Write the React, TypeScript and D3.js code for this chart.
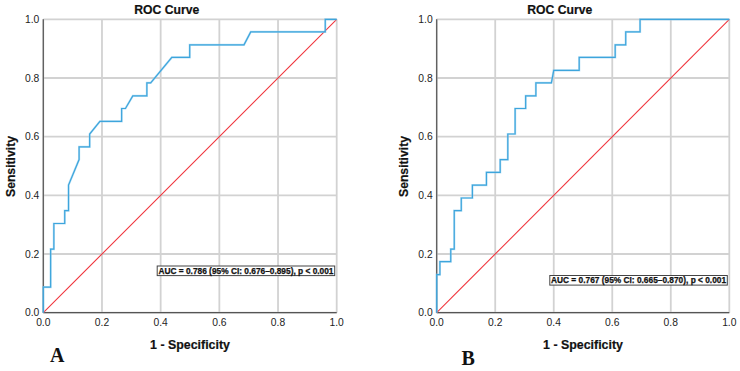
import React from "react";
import * as d3 from "d3";

// ROC curve A: (1 - specificity, sensitivity)
const fprA = [0, 0, 0.025, 0.025, 0.036, 0.036, 0.073, 0.073, 0.086, 0.086, 0.122, 0.122, 0.158, 0.158, 0.193, 0.267, 0.267, 0.28, 0.305, 0.353, 0.353, 0.366, 0.438, 0.499, 0.499, 0.684, 0.707, 0.961, 0.961, 1];
const tprA = [0, 0.087, 0.087, 0.217, 0.217, 0.304, 0.304, 0.348, 0.348, 0.435, 0.522, 0.565, 0.565, 0.609, 0.652, 0.652, 0.696, 0.696, 0.739, 0.739, 0.783, 0.783, 0.87, 0.87, 0.913, 0.913, 0.957, 0.957, 1, 1];

// ROC curve B
const fprB = [0, 0, 0.011, 0.011, 0.048, 0.048, 0.06, 0.06, 0.084, 0.084, 0.122, 0.122, 0.17, 0.17, 0.217, 0.217, 0.243, 0.243, 0.268, 0.268, 0.304, 0.304, 0.339, 0.339, 0.392, 0.4, 0.487, 0.487, 0.61, 0.61, 0.646, 0.646, 0.695, 0.695, 1];
const tprB = [0, 0.13, 0.13, 0.174, 0.174, 0.217, 0.217, 0.348, 0.348, 0.391, 0.391, 0.435, 0.435, 0.478, 0.478, 0.522, 0.522, 0.609, 0.609, 0.696, 0.696, 0.739, 0.739, 0.783, 0.783, 0.826, 0.826, 0.87, 0.87, 0.913, 0.913, 0.957, 0.957, 1, 1];

const ticks = [0, 0.2, 0.4, 0.6, 0.8, 1.0];
const tickLabels = ["0.0", "0.2", "0.4", "0.6", "0.8", "1.0"];
const aucLabels = [
  "AUC = 0.786 (95% CI: 0.676\u20130.895), p < 0.001",
  "AUC = 0.767 (95% CI: 0.665\u20130.870), p < 0.001",
];
const panelLetters = ["A", "B"];

const SANS = "'Liberation Sans', Arial, sans-serif";

type Panel = {
  fpr: number[];
  tpr: number[];
  left: number;
  right: number;
  auc: string;
  letter: string;
  boxTop: number;
  letterX: number;
  letterY: number;
};

const panels: Panel[] = [
  { fpr: fprA, tpr: tprA, left: 43.3, right: 336.7, auc: aucLabels[0], letter: panelLetters[0], boxTop: 266, letterX: 50, letterY: 362 },
  { fpr: fprB, tpr: tprB, left: 436.7, right: 729.3, auc: aucLabels[1], letter: panelLetters[1], boxTop: 275.5, letterX: 461.5, letterY: 365 },
];

const TOP = 19.3;
const BOTTOM = 312.7;

function RocPanel({ p }: { p: Panel }) {
  const x = d3.scaleLinear().domain([0, 1]).range([p.left, p.right]);
  const y = d3.scaleLinear().domain([0, 1]).range([BOTTOM, TOP]);
  const pts: [number, number][] = p.fpr.map((f, i) => [f, p.tpr[i]]);
  const line = d3
    .line<[number, number]>()
    .x((d) => x(d[0]))
    .y((d) => y(d[1]));
  const diag = line([
    [0, 0],
    [1, 1],
  ]);
  const cx = (p.left + p.right) / 2;
  const boxW = 177.5;
  const boxH = 9.6;
  const boxX = p.right - 2 - boxW;
  return (
    <g>
      {/* grid */}
      {ticks.map((t) => (
        <line key={"gx" + t} x1={x(t)} x2={x(t)} y1={TOP} y2={BOTTOM} stroke="#d2d2d2" strokeWidth={1.8} />
      ))}
      {ticks.map((t) => (
        <line key={"gy" + t} x1={p.left} x2={p.right} y1={y(t)} y2={y(t)} stroke="#d2d2d2" strokeWidth={1.8} />
      ))}
      {/* axes */}
      <line x1={p.left} x2={p.left} y1={TOP} y2={BOTTOM} stroke="#555" strokeWidth={1.2} />
      <line x1={p.left} x2={p.right} y1={BOTTOM} y2={BOTTOM} stroke="#555" strokeWidth={1.2} />
      {/* tick labels */}
      {ticks.map((t, i) => (
        <text key={"ty" + t} x={p.left - 4} y={y(t) + 3.6} textAnchor="end" fontSize={10.3} fontFamily={SANS} fill="#222">
          {tickLabels[i]}
        </text>
      ))}
      {ticks.map((t, i) => (
        <text key={"tx" + t} x={x(t)} y={325.5} textAnchor="middle" fontSize={10.3} fontFamily={SANS} fill="#222">
          {tickLabels[i]}
        </text>
      ))}
      {/* reference diagonal */}
      <path d={diag ?? ""} fill="none" stroke="rgb(240,52,60)" strokeWidth={1.1} />
      {/* ROC curve */}
      <path d={line(pts) ?? ""} fill="none" stroke="#8fcdee" strokeWidth={2.2} strokeOpacity={0.6} />
      <path d={line(pts) ?? ""} fill="none" stroke="#3da5dc" strokeWidth={1.2} />
      {/* AUC annotation */}
      <rect x={boxX} y={p.boxTop} width={boxW} height={boxH} fill="#ffffff" stroke="#444" strokeWidth={1} />
      <text
        x={boxX + 1.2}
        y={p.boxTop + boxH - 1.7}
        fontSize={8.3}
        fontWeight="bold"
        fontFamily={SANS}
        fill="#111"
        stroke="#111"
        strokeWidth={0.25}
        textLength={boxW - 2.4}
        lengthAdjust="spacingAndGlyphs"
      >
        {p.auc}
      </text>
      {/* titles */}
      <text x={cx - 23.3} y={13.5} textAnchor="middle" fontSize={12.2} fontWeight="bold" fontFamily={SANS} fill="#111" stroke="#111" strokeWidth={0.2}>
        ROC Curve
      </text>
      <text x={cx} y={348.5} textAnchor="middle" fontSize={12.4} fontWeight="bold" fontFamily={SANS} fill="#111" stroke="#111" strokeWidth={0.2}>
        1 - Specificity
      </text>
      <text
        transform={`translate(${p.left - 28.5},${(TOP + BOTTOM) / 2 + 0.5}) rotate(-90)`}
        textAnchor="middle"
        fontSize={12.2}
        fontWeight="bold"
        fontFamily={SANS}
        fill="#111"
        stroke="#111"
        strokeWidth={0.2}
      >
        Sensitivity
      </text>
      <text x={p.letterX} y={p.letterY} fontSize={20} fontWeight="bold" fontFamily="'Liberation Serif', 'Times New Roman', serif" fill="#111">
        {p.letter}
      </text>
    </g>
  );
}

export default function App() {
  return (
    <svg
      width={740}
      height={371}
      viewBox="0 0 740 371"
      style={{ position: "absolute", left: 0, top: 0, background: "#fff" }}
    >
      <rect x={0} y={0} width={740} height={371} fill="#fff" />
      {panels.map((p) => (
        <RocPanel key={p.letter} p={p} />
      ))}
    </svg>
  );
}
